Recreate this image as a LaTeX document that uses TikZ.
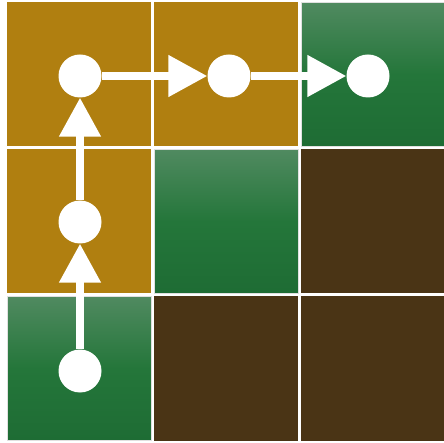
\documentclass[tikz,border=0pt]{standalone}
\usepackage{tikz}
\usetikzlibrary{positioning}
\usetikzlibrary{arrows.meta}

\definecolor{sand}{RGB}{176,127,16}
\definecolor{soil}{RGB}{74,52,21}
\definecolor{grasstop}{RGB}{80,138,96}
\definecolor{grassmid}{RGB}{36,118,58}
\definecolor{grassbot}{RGB}{30,108,52}

\begin{document}
\begin{tikzpicture}[x=1pt,y=-1pt,node distance=147pt,
	cell/.style={rectangle,minimum size=144pt,inner sep=0pt,outer sep=0pt},
	sand cell/.style={cell,fill=sand},
	soil cell/.style={cell,fill=soil},
	grass cell/.style={cell,top color=grasstop,bottom color=grassbot,middle color=grassmid,draw=black!12,line width=0.8pt},
	dot/.style={circle,fill=white,minimum size=43pt,inner sep=0pt},
	move/.style={draw=white,line width=8pt,-{Triangle[width=40pt,length=39pt]}}]
	
	\useasboundingbox (0,0) rectangle (444,443);
	
	% grid of cells
	\node[sand cell] (c11) at (79,74.5) {};
	\node[sand cell] (c12) [right of=c11] {};
	\node[grass cell] (c13) [right of=c12] {};
	\node[sand cell] (c21) [below of=c11] {};
	\node[grass cell] (c22) [right of=c21] {};
	\node[soil cell] (c23) [right of=c22] {};
	\node[grass cell] (c31) [below of=c21] {};
	\node[soil cell] (c32) [right of=c31] {};
	\node[soil cell] (c33) [right of=c32] {};
	
	% path points
	\node[dot] (p1) at (80,371) {};
	\node[dot] (p2) at (80,222) {};
	\node[dot] (p3) at (80,76) {};
	\node[dot] (p4) at (229,76) {};
	\node[dot] (p5) at (368,76) {};
	
	\path
	(p1) edge [move] (p2)
	(p2) edge [move] (p3)
	(p3) edge [move] (p4)
	(p4) edge [move] (p5);
\end{tikzpicture}
\end{document}
